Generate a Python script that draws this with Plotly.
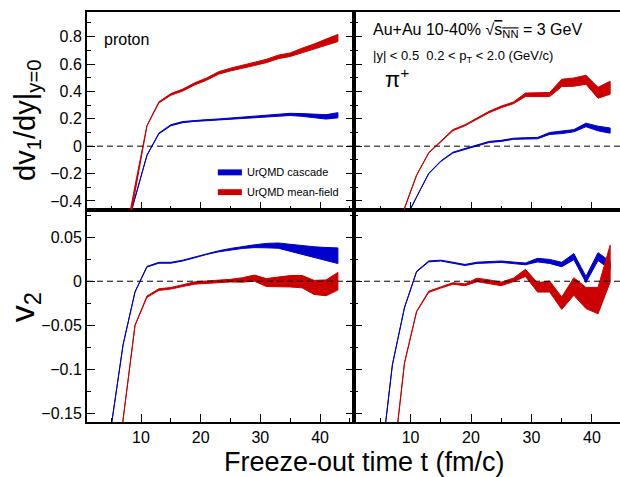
import plotly.graph_objects as go

# ---------------- data ----------------
t = [5, 7, 9, 11, 13, 15, 17, 19, 21, 23, 25, 27, 29, 31, 33, 35, 37, 39, 41, 43]

# proton dv1/dy (top-left)
p_v1_cas = [-1.0, -0.69, -0.378, -0.066, 0.093, 0.153, 0.176, 0.185, 0.19, 0.195, 0.2, 0.207, 0.212, 0.218, 0.225, 0.232, 0.228, 0.222, 0.214, 0.226]
p_v1_cas_err = [0.002, 0.002, 0.002, 0.002, 0.003, 0.004, 0.004, 0.004, 0.004, 0.004, 0.005, 0.006, 0.006, 0.007, 0.007, 0.008, 0.010, 0.012, 0.016, 0.019]
p_v1_mf = [-1.3, -0.75, -0.29, 0.15, 0.32, 0.378, 0.41, 0.455, 0.49, 0.535, 0.56, 0.582, 0.60, 0.622, 0.652, 0.668, 0.70, 0.727, 0.76, 0.79]
p_v1_mf_err = [0.002, 0.002, 0.002, 0.002, 0.004, 0.006, 0.007, 0.008, 0.008, 0.009, 0.010, 0.011, 0.011, 0.012, 0.013, 0.013, 0.016, 0.019, 0.022, 0.026]

# pi+ dv1/dy (top-right)
pi_v1_cas = [-1.3, -0.95, -0.545, -0.37, -0.2, -0.11, -0.047, -0.02, 0.005, 0.031, 0.039, 0.054, 0.057, 0.059, 0.093, 0.1, 0.113, 0.155, 0.129, 0.114]
pi_v1_cas_err = [0.002, 0.002, 0.002, 0.002, 0.002, 0.002, 0.003, 0.003, 0.003, 0.004, 0.004, 0.004, 0.005, 0.005, 0.007, 0.008, 0.008, 0.013, 0.017, 0.019]
pi_v1_mf = [-1.5, -0.9, -0.454, -0.212, -0.049, 0.035, 0.117, 0.153, 0.2, 0.25, 0.287, 0.316, 0.375, 0.377, 0.377, 0.462, 0.468, 0.485, 0.39, 0.427]
pi_v1_mf_err = [0.002, 0.002, 0.002, 0.002, 0.002, 0.003, 0.004, 0.004, 0.005, 0.005, 0.006, 0.006, 0.013, 0.014, 0.015, 0.027, 0.030, 0.033, 0.040, 0.047]

# proton v2 (bottom-left)
p_v2_cas = [-0.165, -0.072, -0.012, 0.0165, 0.021, 0.021, 0.0235, 0.027, 0.031, 0.034, 0.0365, 0.0385, 0.0398, 0.0405, 0.0405, 0.038, 0.0355, 0.033, 0.031, 0.029]
p_v2_cas_err = [0.0003, 0.0003, 0.0003, 0.0004, 0.0005, 0.0005, 0.0005, 0.0005, 0.0006, 0.0006, 0.0008, 0.0012, 0.0016, 0.0025, 0.003, 0.004, 0.005, 0.0062, 0.0074, 0.0089]
p_v2_mf = [-0.35, -0.157, -0.05, -0.0175, -0.0095, -0.008, -0.005, -0.002, -0.001, -0.0005, 0.0007, 0.0015, 0.0035, -0.0015, -0.0005, 0.0, -0.0005, -0.007, -0.0075, 0.0]
p_v2_mf_err = [0.0003, 0.0003, 0.0003, 0.0008, 0.0009, 0.0009, 0.0010, 0.0013, 0.0013, 0.0014, 0.0015, 0.0025, 0.0035, 0.0045, 0.0055, 0.0065, 0.007, 0.008, 0.009, 0.010]

# pi+ v2 (bottom-right)
pi_v2_cas = [-0.213, -0.095, -0.03, 0.011, 0.0225, 0.0235, 0.021, 0.0185, 0.021, 0.0215, 0.0222, 0.021, 0.0197, 0.024, 0.0225, 0.019, 0.028, 0.002, 0.028, 0.018]
pi_v2_cas_err = [0.0003, 0.0003, 0.0003, 0.0004, 0.0005, 0.0005, 0.0006, 0.0006, 0.0007, 0.0007, 0.0008, 0.0008, 0.001, 0.002, 0.0023, 0.0025, 0.0035, 0.0035, 0.0045, 0.0045]
pi_v2_mf = [-0.45, -0.215, -0.093, -0.0345, -0.012, -0.007, -0.0025, -0.004, 0.0015, -0.0005, -0.003, 0.0015, 0.0095, -0.007, -0.006, -0.025, -0.006, -0.019, -0.022, 0.02]
pi_v2_mf_err = [0.0003, 0.0003, 0.0003, 0.0004, 0.0007, 0.0008, 0.0009, 0.001, 0.002, 0.002, 0.002, 0.002, 0.004, 0.0053, 0.0063, 0.007, 0.010, 0.012, 0.015, 0.021]

x_ticks = [10, 20, 30, 40]
x_minor = [5, 15, 25, 35, 45]
v1_ticks = [-0.4, -0.2, 0, 0.2, 0.4, 0.6, 0.8]
v1_ticktext = ["\u22120.4", "\u22120.2", "0", "0.2", "0.4", "0.6", "0.8"]
v1_minor = [-0.3, -0.1, 0.1, 0.3, 0.5, 0.7, 0.9]
v2_ticks = [-0.15, -0.1, -0.05, 0, 0.05]
v2_ticktext = ["\u22120.15", "\u22120.1", "\u22120.05", "0", "0.05"]
v2_minor = [-0.125, -0.075, -0.025, 0.025, 0.075]

BLUE = "#0000cc"
RED = "#cc0000"
FONT = "Liberation Sans, Arial, sans-serif"

fig = go.Figure()


def band(c, e, color, xa, ya):
    up = [a + b for a, b in zip(c, e)]
    lo = [a - b for a, b in zip(c, e)]
    return go.Scatter(x=t + t[::-1], y=up + lo[::-1], fill="toself", fillcolor=color,
                      mode="lines", line=dict(color=color, width=1),
                      hoverinfo="skip", showlegend=False, xaxis=xa, yaxis=ya)


# bottom-left: x, y ; bottom-right: x2, y2 ; top-left: x3, y3 ; top-right: x4, y4
fig.add_trace(band(p_v2_cas, p_v2_cas_err, BLUE, "x", "y"))
fig.add_trace(band(p_v2_mf, p_v2_mf_err, RED, "x", "y"))
fig.add_trace(band(pi_v2_cas, pi_v2_cas_err, BLUE, "x2", "y2"))
fig.add_trace(band(pi_v2_mf, pi_v2_mf_err, RED, "x2", "y2"))
fig.add_trace(band(p_v1_cas, p_v1_cas_err, BLUE, "x3", "y3"))
fig.add_trace(band(p_v1_mf, p_v1_mf_err, RED, "x3", "y3"))
fig.add_trace(band(pi_v1_cas, pi_v1_cas_err, BLUE, "x4", "y4"))
fig.add_trace(band(pi_v1_mf, pi_v1_mf_err, RED, "x4", "y4"))

XSPLIT = 0.501
YSPLIT = 0.5171
XL = [0.95, 45.7]
XR = [0.66, 44.63]
YV1 = [-0.466, 0.98]
YV2 = [-0.16, 0.081]


def xax(dom, rng, anchor, labels):
    return dict(domain=dom, range=rng, anchor=anchor, showline=True, linecolor="black", linewidth=2,
                mirror=True, ticks="inside", ticklen=8, tickwidth=1, tickcolor="black",
                tickmode="array", tickvals=x_ticks, showticklabels=labels,
                minor=dict(tickmode="array", tickvals=x_minor, ticks="inside", ticklen=4, tickcolor="black", tickwidth=1),
                showgrid=False, zeroline=False, tickfont=dict(size=16, color="black", family=FONT))


def yax(dom, rng, anchor, tv, tt, mv, labels, mirror):
    return dict(domain=dom, range=rng, anchor=anchor, showline=True, linecolor="black", linewidth=2,
                mirror=mirror, ticks="inside", ticklen=8, tickwidth=1, tickcolor="black",
                tickmode="array", tickvals=tv, ticktext=tt, showticklabels=labels,
                minor=dict(tickmode="array", tickvals=mv, ticks="inside", ticklen=4, tickcolor="black", tickwidth=1),
                showgrid=False, zeroline=False, tickfont=dict(size=16, color="black", family=FONT))


fig.update_layout(
    width=620, height=477,
    margin=dict(l=87, r=0, t=12, b=55),
    paper_bgcolor="white", plot_bgcolor="white",
    font=dict(family=FONT, color="black"),
    showlegend=False,
    xaxis=xax([0, XSPLIT], XL, "y", True),
    yaxis=yax([0, YSPLIT], YV2, "x", v2_ticks, v2_ticktext, v2_minor, True, "ticks"),
    xaxis2=xax([XSPLIT, 1], XR, "y2", True),
    yaxis2=yax([0, YSPLIT], YV2, "x2", v2_ticks, v2_ticktext, v2_minor, False, False),
    xaxis3=xax([0, XSPLIT], XL, "y3", False),
    yaxis3=yax([YSPLIT, 1], YV1, "x3", v1_ticks, v1_ticktext, v1_minor, True, "ticks"),
    xaxis4=xax([XSPLIT, 1], XR, "y4", False),
    yaxis4=yax([YSPLIT, 1], YV1, "x4", v1_ticks, v1_ticktext, v1_minor, False, False),
)

# dashed zero lines
for xa, ya in [("x", "y"), ("x2", "y2"), ("x3", "y3"), ("x4", "y4")]:
    fig.add_shape(type="line", xref=xa + " domain", yref=ya, x0=0, x1=1, y0=0, y1=0,
                  line=dict(color="black", width=1, dash="6px,4px"))

# legend swatches (top-left panel, domain coords)
fig.add_shape(type="rect", xref="x3 domain", yref="y3 domain", x0=0.49, x1=0.58, y0=0.175, y1=0.205,
              fillcolor=BLUE, line=dict(width=0))
fig.add_shape(type="rect", xref="x3 domain", yref="y3 domain", x0=0.49, x1=0.58, y0=0.075, y1=0.105,
              fillcolor=RED, line=dict(width=0))

ann = []


def A(text, x, y, size, xanchor="left", yanchor="middle", angle=0, xref="paper", yref="paper"):
    ann.append(dict(text=text, x=x, y=y, xref=xref, yref=yref, showarrow=False, xanchor=xanchor,
                    yanchor=yanchor, textangle=angle, font=dict(size=size, color="black", family=FONT)))


A("UrQMD cascade", 0.593, 0.19, 11, xref="x3 domain", yref="y3 domain")
A("UrQMD mean-field", 0.593, 0.09, 11, xref="x3 domain", yref="y3 domain")
A("proton", 0.055, 0.863, 16, xref="x3 domain", yref="y3 domain")
A("Au+Au 10-40% \u221a<span style='text-decoration:overline'>s<sub>NN</sub></span> = 3 GeV",
  0.065, 0.905, 16, xref="x4 domain", yref="y4 domain")
A("|y| < 0.5  0.2 < p<sub>T</sub> < 2.0 (GeV/c)", 0.065, 0.775, 13, xref="x4 domain", yref="y4 domain")
A("\u03c0<sup>+</sup>", 0.11, 0.665, 22, xref="x4 domain", yref="y4 domain")

A("dv<sub>1</sub>/dy|<sub>y=0</sub>", -0.114, 0.735, 29, xanchor="center", angle=-90)
A("v<sub>2</sub>", -0.118, 0.28, 34, xanchor="center", angle=-90)
A("Freeze-out time t (fm/c)", 0.52, -0.097, 27, xanchor="center")

fig.update_layout(annotations=ann)
fig.write_html("out.html")
